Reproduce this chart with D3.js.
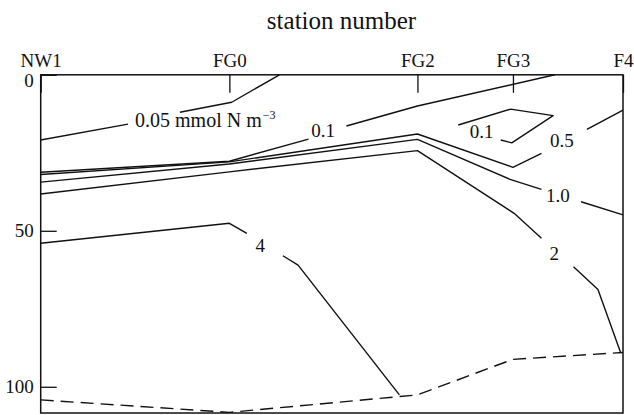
<!DOCTYPE html>
<html><head><meta charset="utf-8">
<script src="https://cdn.jsdelivr.net/npm/d3@7"></script>
<style>
body{margin:0;background:#fff}
text{font-family:"Liberation Serif","DejaVu Serif",serif;fill:#111}
</style>
</head><body>
<svg id="c" width="634" height="415"></svg>
<script>
// ---- data (distance along section, depth in m) ----
const stations = ["NW1", "FG0", "FG2", "FG3", "F4"];
const stationDist = [0, 32.4, 64.7, 81.1, 100];
const depthTicks = [0, 50, 100];
const depthMax = 108.4;

// contour polylines, each split into pieces around its label: [distance, depth]
const c005 = [[[0, 20.9], [15.0, 15.8]], [[23.9, 12.0], [32.8, 8.8], [41.0, 0]]];
const c01 = [[[0, 31.25], [32.4, 27.7], [46.0, 20.6]], [[52.5, 16.4], [64.7, 10.0], [88.3, 0]]];
const c01island = [[[71.7, 16.1], [80.7, 11.0], [88.0, 13.1], [80.9, 21.8], [79.0, 20.9]]];
const c05 = [[[0, 31.96], [32.4, 27.9], [64.7, 18.97], [81.1, 29.65], [86.0, 25.2]], [[93.8, 17.5], [100, 11.3]]];
const c10 = [[[0, 34.4], [32.4, 28.6], [64.7, 20.7], [80.6, 33.5], [86.0, 36.7]], [[92.8, 40.7], [100, 44.9]]];
const c2 = [[[0, 38.2], [32.4, 31.1], [64.7, 24.3], [81.3, 44.4], [86.0, 52.4]], [[91.5, 61.5], [95.7, 68.8], [99.6, 89.1]]];
const c4 = [[[0, 54.0], [32.4, 47.6], [35.4, 50.8]], [[41.6, 58.0], [44.2, 61.0], [61.6, 102.6]]];
const bottomDepth = [[0, 104.2], [32.4, 108.2], [64.7, 102.6], [81.1, 91.2], [100, 89.0]];

const contours = [c005, c01, c01island, c05, c10, c2, c4];

// contour labels: text, distance, depth (label centre)
const labelText = ["0.1", "0.1", "0.5", "1.0", "2", "4"];
const labelDist = [48.5, 75.7, 89.5, 88.8, 88.2, 37.7];
const labelDepth = [17.9, 18.2, 21.1, 38.5, 57.2, 54.6];
const unitLabel = {value: "0.05", unit: "mmol N m", exp: "\u22123", dist: 16.2, depth: 16.8};

// ---- drawing ----
const W = 634, H = 415;
const m = {left: 40.7, top: 74.8, right: 11, bottom: 2};
const svg = d3.select("#c");
const x = d3.scaleLinear().domain([0, 100]).range([m.left, W - m.right]);
const y = d3.scaleLinear().domain([0, depthMax]).range([m.top, H - m.bottom]);

const line = d3.line().x(d => x(d[0])).y(d => y(d[1]));

// contours
const g = svg.append("g").attr("fill", "none").attr("stroke", "#111")
  .attr("stroke-width", 1.4).attr("stroke-linejoin", "round");
contours.forEach(c => c.forEach(piece => g.append("path").attr("d", line(piece))));
g.append("path").attr("d", line(bottomDepth)).attr("stroke-dasharray", "13,7");

// frame
svg.append("rect").attr("x", x(0)).attr("y", y(0))
  .attr("width", x(100) - x(0)).attr("height", y(depthMax) - y(0))
  .attr("fill", "none").attr("stroke", "#111").attr("stroke-width", 1.5);

// top axis (stations)
const topAxis = svg.append("g").attr("transform", `translate(0,${y(0)})`)
  .call(d3.axisTop(x).tickValues(stationDist).tickFormat((d, i) => stations[i])
    .tickSizeInner(-18).tickSizeOuter(0).tickPadding(8));
topAxis.select(".domain").remove();
topAxis.selectAll(".tick line").attr("stroke", "#111").attr("stroke-width", 1.3);
topAxis.selectAll(".tick text").attr("font-size", 19).attr("fill", "#111")
  .style("font-family", '"Liberation Serif",serif');

// left axis (depth)
const leftAxis = svg.append("g").attr("transform", `translate(${x(0)},0)`)
  .call(d3.axisLeft(y).tickValues(depthTicks).tickSizeInner(-16).tickSizeOuter(0).tickPadding(7));
leftAxis.select(".domain").remove();
leftAxis.selectAll(".tick line").attr("stroke", "#111").attr("stroke-width", 1.3);
leftAxis.selectAll(".tick text").attr("font-size", 19).attr("fill", "#111")
  .style("font-family", '"Liberation Serif",serif')
  .attr("dy", d => d === 0 ? "0.6em" : "0.32em");

// title
svg.append("text").attr("x", 341.5).attr("y", 29).attr("text-anchor", "middle")
  .attr("font-size", 25).text("station number");

// contour labels
labelText.forEach((t, i) => {
  svg.append("text").attr("x", x(labelDist[i])).attr("y", y(labelDepth[i]))
    .attr("dy", "0.35em").attr("text-anchor", "middle").attr("font-size", 19).text(t);
});
const ul = svg.append("text").attr("x", x(unitLabel.dist)).attr("y", y(unitLabel.depth))
  .attr("font-size", 20);
ul.append("tspan").text(unitLabel.value + " " + unitLabel.unit);
ul.append("tspan").attr("font-size", 12).attr("dy", -8).attr("dx", 1).text(unitLabel.exp);
</script>
</body></html>
